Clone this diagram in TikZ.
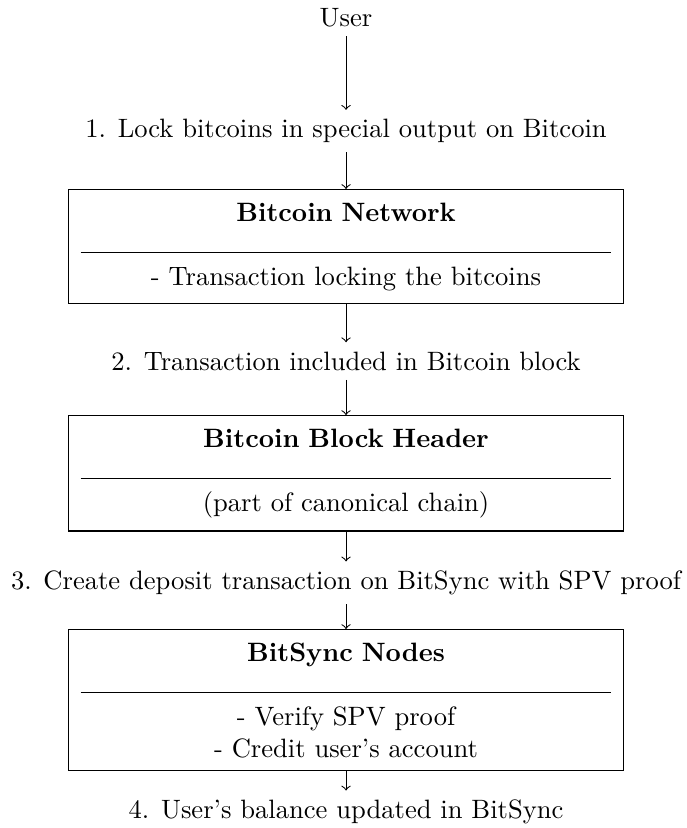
\documentclass[tikz,border=0pt]{standalone}
\usetikzlibrary{positioning}

\tikzset{
  stage/.style={rectangle, draw, anchor=north, text width=7.02cm, align=center, inner xsep=4.5pt, inner ysep=5pt},
  flow/.style={->}
}

\begin{document}
\begin{tikzpicture}
    \useasboundingbox (-4.577,0) rectangle (4.497,-10.952);

    % Steps
    \node (user) at (0,-0.23) {User};
    \node (lock) at (0,-1.733) {1. Lock bitcoins in special output on Bitcoin};
    \node (incl) at (0,-4.775) {2. Transaction included in Bitcoin block};
    \node (depo) at (0,-7.71) {3. Create deposit transaction on BitSync with SPV proof};
    \node (bal) at (0,-10.74) {4. User's balance updated in BitSync};

    % Boxes
    \node[stage] (btc) at (0,-2.50) {\textbf{Bitcoin Network}\\\rule{\linewidth}{0.4pt}\\- Transaction locking the bitcoins};
    \node[stage] (hdr) at (0,-5.49) {\textbf{Bitcoin Block Header}\\\rule{\linewidth}{0.4pt}\\(part of canonical chain)};
    \node[stage] (bsn) at (0,-8.32) {\textbf{BitSync Nodes}\\\rule{\linewidth}{0.4pt}\\- Verify SPV proof\\- Credit user's account};

    % Arrows
    \draw[flow] (user) -- (lock);
    \draw[flow] (lock) -- (btc);
    \draw[flow] (btc) -- (incl);
    \draw[flow] (incl) -- (hdr);
    \draw[flow] (hdr) -- (depo);
    \draw[flow] (depo) -- (bsn);
    \draw[flow] (bsn) -- (bal);
\end{tikzpicture}
\end{document}
